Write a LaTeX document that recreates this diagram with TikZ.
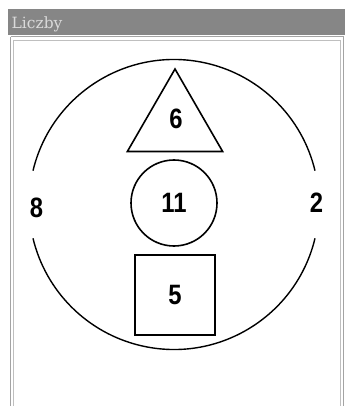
\documentclass[tikz,border=0pt]{standalone}
\usepackage{fontspec}
\setmainfont{DejaVu Serif}
\newfontfamily\digitfont[FakeStretch=0.85]{Liberation Sans}
\usetikzlibrary{shapes.geometric}
\definecolor{bargray}{HTML}{868686}
\definecolor{titlegray}{HTML}{DADADA}
\definecolor{framegray}{HTML}{A4A4A4}

\begin{document}
\begin{tikzpicture}[x=1pt, y=-1pt,
  shp/.style={draw, line width=1.6pt, inner sep=0pt},
  num/.style={font=\digitfont\bfseries\fontsize{28}{28}\selectfont, inner sep=0pt},
  rim/.style={line width=1.4pt}]
\useasboundingbox (0,0) rectangle (345,406);

% window title and frame
\fill[bargray] (8,9) rectangle (345,35);
\node[anchor=base west, text=titlegray, font=\fontsize{15.5}{15.5}\selectfont, inner sep=0pt] (title) at (11.5,29) {Liczby};
\draw[framegray, line width=1pt] (10.5,37) -- (343.5,37) -- (343.5,410);
\draw[framegray, line width=1pt] (10.5,37) -- (10.5,410);
\draw[framegray!70, line width=0.8pt] (13,40) -- (340.5,40) -- (340.5,410);
\draw[framegray!70, line width=0.8pt] (13,40) -- (13,410);

% big ring, open at the two side numbers
\coordinate (ring) at (174,204.5);
\draw[rim] ([shift={(13.5:145)}]ring) arc[start angle=13.5, end angle=166.5, radius=145];
\draw[rim] ([shift={(193.5:145)}]ring) arc[start angle=193.5, end angle=346.5, radius=145];
\node[num] (eight) at (36.5,208) {8};
\node[num] (two) at (316.5,203) {2};

% inner shapes
\node[shp, regular polygon, regular polygon sides=3, minimum size=110pt] (tri) at (175,124) {};
\node[num] (six) at (176,119) {6};
\node[shp, circle, minimum size=86pt, num] (mid) at (174,203) {11};
\node[shp, rectangle, minimum size=80pt, num] (sq) at (175,295) {5};
\end{tikzpicture}
\end{document}
